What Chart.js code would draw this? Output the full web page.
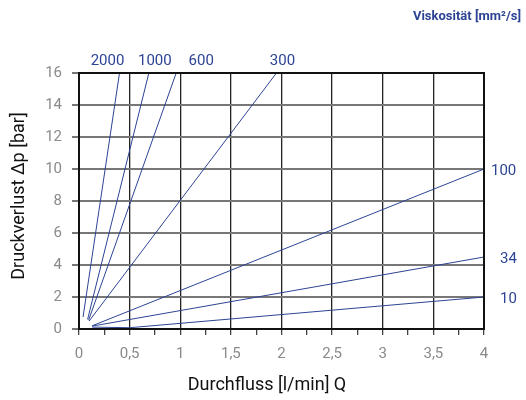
<!DOCTYPE html>
<html>
<head>
<meta charset="utf-8">
<script src="https://cdn.jsdelivr.net/npm/chart.js@4"></script>
<style>
  html, body { margin: 0; padding: 0; background: #fff; }
  #wrap { width: 526px; height: 400px; }
</style>
</head>
<body>
<div id="wrap"><canvas id="chart" width="526" height="400"></canvas></div>
<script>
// viscosity curves, Q [l/min] vs pressure drop [bar]
const viscosities = ["2000", "1000", "600", "300", "100", "34", "10"];
const flowValues = [
  [0.04, 0.40],
  [0.085, 0.69],
  [0.095, 0.96],
  [0.10, 1.95],
  [0.13, 4],
  [0.13, 4],
  [0.13, 0.5, 4],
];
const pressureValues = [
  [0.75, 16],
  [0.6, 16],
  [0.55, 16],
  [0.5, 16],
  [0.2, 10],
  [0.18, 4.5],
  [0.12, 0.08, 2],
];
const xTicks = [0, 0.5, 1, 1.5, 2, 2.5, 3, 3.5, 4];
const yTicks = [0, 2, 4, 6, 8, 10, 12, 14, 16];

const blue = "#2d4494";

const datasets = viscosities.map((v, i) => ({
  label: v,
  data: flowValues[i].map((x, j) => ({ x: x, y: pressureValues[i][j] })),
  borderColor: blue,
  borderWidth: 1,
  pointRadius: 0,
  tension: 0,
  fill: false,
}));

// label offsets for the viscosity names (top ones above plot, rest to the right)
const labelPos = {
  "2000": { dx: -12, top: true },
  "1000": { dx: 6, top: true },
  "600": { dx: 25, top: true },
  "300": { dx: 6, top: true },
  "100": { dx: 7, top: false },
  "34": { dx: 16, top: false },
  "10": { dx: 16, top: false },
};

const decorations = {
  id: "decorations",
  afterDraw(chart) {
    const ctx = chart.ctx;
    const area = chart.chartArea;
    ctx.save();
    // outer frame
    ctx.strokeStyle = "#111";
    ctx.lineWidth = 2;
    ctx.strokeRect(area.left, area.top, area.right - area.left, area.bottom - area.top);

    // curve labels
    ctx.fillStyle = blue;
    ctx.font = "15px Roboto";
    chart.data.datasets.forEach((ds, i) => {
      const meta = chart.getDatasetMeta(i);
      const last = meta.data[meta.data.length - 1];
      const p = labelPos[ds.label];
      if (p.top) {
        ctx.textAlign = "center";
        ctx.textBaseline = "middle";
        ctx.fillText(ds.label, last.x + p.dx, area.top - 12);
      } else {
        ctx.textAlign = "left";
        ctx.textBaseline = "middle";
        ctx.fillText(ds.label, last.x + p.dx, last.y + 2);
      }
    });

    ctx.font = "bold 13px Roboto";
    ctx.textAlign = "right";
    ctx.textBaseline = "middle";
    ctx.fillText("Viskosität [mm²/s]", 521, 17);

    // axis titles
    ctx.fillStyle = "#111";
    ctx.font = "18px Roboto";
    ctx.textAlign = "center";
    ctx.fillText("Durchfluss [l/min] Q", 267, 385);
    ctx.translate(19, 196);
    ctx.rotate(-Math.PI / 2);
    ctx.fillText("Druckverlust Δp [bar]", 0, 0);
    ctx.restore();
  },
};

new Chart(document.getElementById("chart"), {
  type: "line",
  data: { datasets: datasets },
  options: {
    responsive: false,
    animation: false,
    layout: { padding: { top: 73, right: 42, left: 0, bottom: 0 } },
    plugins: { legend: { display: false }, tooltip: { enabled: false } },
    scales: {
      x: {
        type: "linear",
        min: 0,
        max: 4,
        afterFit: (s) => { s.height = 71; },
        afterBuildTicks: (s) => {
          const t = [];
          for (let v = 0; v <= 16; v++) t.push({ value: v * 0.25 });
          s.ticks = t;
        },
        ticks: {
          autoSkip: false,
          maxRotation: 0,
          padding: 10,
          color: "#8a8a8a",
          font: { family: "Roboto", size: 15 },
          callback: (v) => (xTicks.includes(v) ? String(v).replace(".", ",") : ""),
        },
        grid: {
          color: (c) => (c.tick && xTicks.includes(c.tick.value) ? "#222" : "rgba(0,0,0,0)"),
          lineWidth: 1.3,
          tickColor: "#444",
          tickLength: 6,
        },
        border: { color: "#111", width: 2 },
      },
      y: {
        min: 0,
        max: 16,
        afterFit: (s) => { s.width = 79; },
        afterBuildTicks: (s) => { s.ticks = yTicks.map((v) => ({ value: v })); },
        ticks: {
          padding: 10,
          color: "#8a8a8a",
          font: { family: "Roboto", size: 15 },
        },
        grid: {
          color: "#777",
          lineWidth: 2,
          tickColor: "#777",
          tickLength: 7,
        },
        border: { color: "#111", width: 2 },
      },
    },
  },
  plugins: [decorations],
});
</script>
</body>
</html>
